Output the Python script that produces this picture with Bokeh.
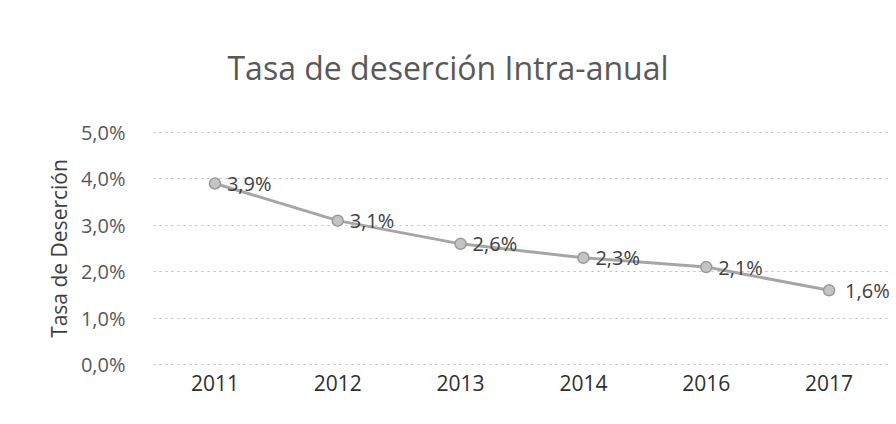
from bokeh.plotting import figure
from bokeh.models import ColumnDataSource, FixedTicker, Range1d, LabelSet, Div
from bokeh.layouts import column
from bokeh.core.properties import value
from bokeh.embed import file_html
from bokeh.resources import INLINE

years = ["2011", "2012", "2013", "2014", "2016", "2017"]
rates = [0.039, 0.031, 0.026, 0.023, 0.021, 0.016]
labels = ["3,9%", "3,1%", "2,6%", "2,3%", "2,1%", "1,6%"]
label_dx = [12, 12, 12, 12, 12, 16]
y_ticks = [0.0, 0.01, 0.02, 0.03, 0.04, 0.05]
y_tick_labels = ["0,0%", "1,0%", "2,0%", "3,0%", "4,0%", "5,0%"]
title_text = "Tasa de deserción Intra-anual"

FONT = "Open Sans"

src = ColumnDataSource(dict(x=years, y=rates, lab=labels, dx=label_dx))

title = Div(text=title_text, width=896, height=100, margin=0,
            styles={"font-family": FONT, "font-size": "32px", "color": "#595959",
                    "line-height": "32px", "padding-top": "52px",
                    "text-align": "center", "box-sizing": "border-box",
                    "width": "896px"})

p = figure(width=896, height=308, x_range=years, y_range=Range1d(-0.0004, 0.0504),
           output_backend="svg", toolbar_location=None, margin=0,
           min_border_left=153, min_border_right=6, min_border_top=30,
           min_border_bottom=42)

p.line("x", "y", source=src, line_color="#a6a6a6", line_width=3)
p.scatter("x", "y", source=src, size=11, marker="circle",
          fill_color="#c4c4c4", line_color="#9a9a9a", line_width=1.5)
p.add_layout(LabelSet(x="x", y="y", text="lab", source=src, x_offset="dx",
                      text_align="left", text_baseline="middle",
                      text_font=value(FONT), text_font_size="20px",
                      text_color="#404040"))

p.yaxis.ticker = FixedTicker(ticks=y_ticks)
p.yaxis.major_label_overrides = {t: s for t, s in zip(y_ticks, y_tick_labels)}
p.yaxis.axis_label = "Tasa de Deserción"
p.yaxis.axis_label_text_font = FONT
p.yaxis.axis_label_text_font_style = "normal"
p.yaxis.axis_label_text_font_size = "21px"
p.yaxis.axis_label_text_color = "#404040"
p.yaxis.axis_label_standoff = 5

for ax in (p.xaxis, p.yaxis):
    ax.axis_line_color = None
    ax.major_tick_line_color = None
    ax.minor_tick_line_color = None
    ax.major_label_text_font = FONT
p.yaxis.major_label_text_font_size = "20px"
p.xaxis.major_label_text_font_size = "21px"
p.yaxis.major_label_text_color = "#595959"
p.xaxis.major_label_text_color = "#303030"
p.yaxis.major_label_standoff = 22
p.xaxis.major_label_standoff = 2

p.xgrid.grid_line_color = None
p.ygrid.grid_line_color = "#b8b8b8"
p.ygrid.grid_line_dash = "2 4"
p.ygrid.grid_line_width = 1
p.outline_line_color = None

layout = column(title, p, spacing=0, margin=0)

open("out.html", "w").write(file_html(layout, INLINE))
